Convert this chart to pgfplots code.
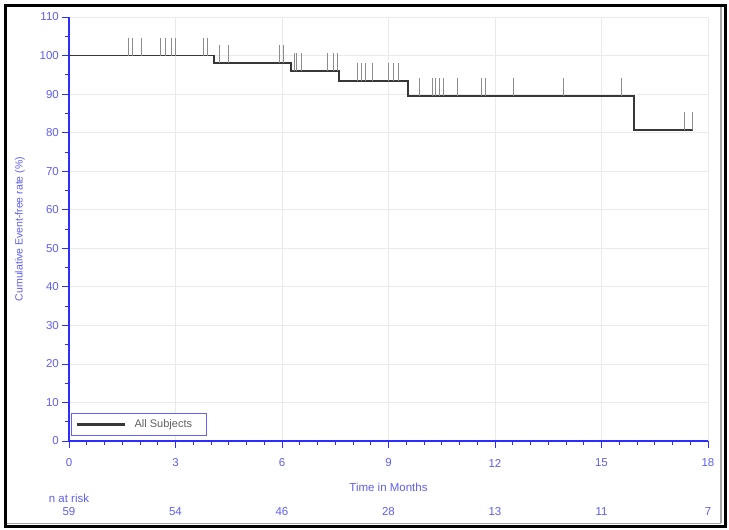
\documentclass[border=0pt]{standalone}
\usepackage{fontspec}
\setmainfont{Liberation Sans}
\usepackage{pgfplots}
\pgfplotsset{compat=1.18}
\definecolor{axblue}{RGB}{45,45,255}
\definecolor{txtblue}{RGB}{95,95,245}
\definecolor{curvec}{RGB}{55,55,55}
\definecolor{cens}{RGB}{140,140,140}
\definecolor{gridc}{RGB}{234,234,234}
\begin{document}
\begin{tikzpicture}
\useasboundingbox (-69pt,-89pt) rectangle (660pt,441pt);
\fill[white] (-69pt,-89pt) rectangle (660pt,441pt);
\begin{axis}[
  at={(0pt,0pt)}, anchor=south west,
  scale only axis, width=639pt, height=424pt,
  xmin=0, xmax=18, ymin=0, ymax=110,
  axis x line*=bottom, axis y line*=left,
  axis line style={axblue, line width=1.8pt, -},
  x axis line style={-}, y axis line style={-},
  xtick={0,3,...,18}, ytick={0,10,...,110},
  minor x tick num=5, minor y tick num=1,
  tick align=outside,
  major tick length=7pt, minor tick length=4pt,
  tick style={axblue, line width=0.8pt},
  grid=major, major grid style={gridc, line width=0.8pt},
  ticklabel style={font=\fontsize{11.5}{13}\selectfont, text=txtblue},
  /pgf/number format/assume math mode=true,
  xticklabel style={anchor=center, yshift=-15pt},
  yticklabel style={anchor=east, inner sep=0pt, xshift=-3pt},
  clip=false,
  legend style={at={(axis cs:0.06,1.3)}, anchor=south west, draw=axblue!75, line width=0.6pt,
    inner xsep=4pt, inner ysep=4.5pt, font=\fontsize{11}{13}\selectfont, text=black!62, fill=white},
  legend image code/.code={\draw[#1, line width=2.4pt] (0pt,0pt) -- (48pt,0pt); \path[draw=none] (0pt,0pt) -- (56pt,0pt);},
  legend cell align=left,
]
% censoring marks (tick from curve upward)
\addplot[only marks, mark=|, mark size=9pt, cens, mark options={line width=1pt}, forget plot] coordinates {
 (1.69,102.33) (1.80,102.33) (2.03,102.33) (2.59,102.33) (2.73,102.33) (2.90,102.33) (2.99,102.33) (3.80,102.33) (3.89,102.33)};
\addplot[only marks, mark=|, mark size=9pt, cens, mark options={line width=1pt}, forget plot] coordinates {
 (4.25,100.33) (4.48,100.33) (5.92,100.33) (6.03,100.33)};
\addplot[only marks, mark=|, mark size=9pt, cens, mark options={line width=1pt}, forget plot] coordinates {
 (6.34,98.33) (6.42,98.33) (6.54,98.33) (7.27,98.33) (7.44,98.33) (7.55,98.33)};
\addplot[only marks, mark=|, mark size=9pt, cens, mark options={line width=1pt}, forget plot] coordinates {
 (8.14,95.73) (8.25,95.73) (8.34,95.73) (8.56,95.73) (8.99,95.73) (9.13,95.73) (9.27,95.73)};
\addplot[only marks, mark=|, mark size=9pt, cens, mark options={line width=1pt}, forget plot] coordinates {
 (9.86,91.83) (10.23,91.83) (10.31,91.83) (10.45,91.83) (10.54,91.83) (10.93,91.83) (11.63,91.83) (11.72,91.83) (12.51,91.83) (13.92,91.83) (15.55,91.83)};
\addplot[only marks, mark=|, mark size=9pt, cens, mark options={line width=1pt}, forget plot] coordinates {
 (17.35,83.03) (17.55,83.03)};
% survival step curve
\addplot[const plot, curvec, line width=1.6pt] coordinates {
 (0,100) (4.08,98.0) (6.25,96.0) (7.61,93.4) (9.55,89.5) (15.92,80.7) (17.58,80.7)};
\addlegendentry{All Subjects\kern8pt\null}
% labels
\node[text=txtblue, font=\fontsize{11.5}{13}\selectfont] at (axis cs:9,-11.93) {Time in Months};
\node[text=txtblue, font=\fontsize{10.5}{12}\selectfont, rotate=90] at (axis cs:-1.38,55) {Cumulative Event-free rate (\%)};
\node[text=txtblue, font=\fontsize{11.5}{13}\selectfont] at (axis cs:0,-14.8) {n at risk};
\node[text=txtblue, font=\fontsize{11.5}{13}\selectfont] at (axis cs:0,-18.42) {59};
\node[text=txtblue, font=\fontsize{11.5}{13}\selectfont] at (axis cs:3,-18.42) {54};
\node[text=txtblue, font=\fontsize{11.5}{13}\selectfont] at (axis cs:6,-18.42) {46};
\node[text=txtblue, font=\fontsize{11.5}{13}\selectfont] at (axis cs:9,-18.42) {28};
\node[text=txtblue, font=\fontsize{11.5}{13}\selectfont] at (axis cs:12,-18.42) {13};
\node[text=txtblue, font=\fontsize{11.5}{13}\selectfont] at (axis cs:15,-18.42) {11};
\node[text=txtblue, font=\fontsize{11.5}{13}\selectfont] at (axis cs:18,-18.42) {7};
\end{axis}
\draw[black!35, line width=1.5pt] (652pt,-82.5pt) -- (652pt,434pt);
\draw[black!35, line width=1.5pt] (-62pt,-82.5pt) -- (652pt,-82.5pt);
\draw[black, line width=3pt] (-63pt,-86pt) rectangle (656pt,435.5pt);
\end{tikzpicture}
\end{document}
